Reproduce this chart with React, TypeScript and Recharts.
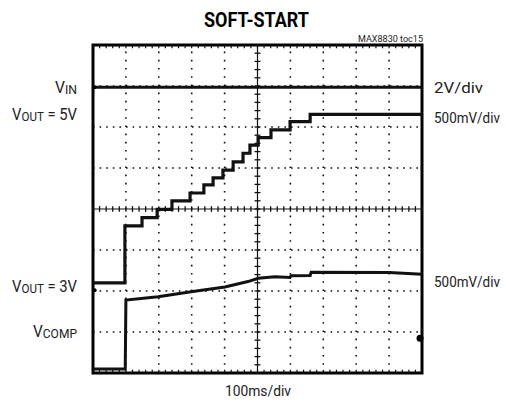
import React from 'react';
import { LineChart, Line, XAxis, YAxis, ReferenceLine, ReferenceArea, ReferenceDot } from 'recharts';

// --- scope traces, in screen divisions (10 x 8) ---
const vinX = [0, 10];
const vinY = [6.97, 6.97];

// VOUT = 5V staircase (stepAfter)
const v5X = [0, 0.97, 1.49, 1.95, 2.4, 2.95, 3.37, 3.65, 3.95, 4.26, 4.56, 4.77, 5.02, 5.41, 5.99, 6.6, 10];
const v5Y = [2.2, 3.59, 3.79, 3.99, 4.2, 4.39, 4.59, 4.76, 4.95, 5.15, 5.36, 5.56, 5.74, 5.93, 6.13, 6.31, 6.31];

// VOUT = 3V / VCOMP ramp
const v3X = [0, 0.98, 1.0, 1.98, 2.98, 4.01, 4.71, 5.02, 5.53, 5.99, 6.02, 6.6, 6.63, 9.0, 10];
const v3Y = [0.1, 0.1, 1.78, 1.86, 1.98, 2.1, 2.23, 2.31, 2.35, 2.33, 2.37, 2.38, 2.46, 2.45, 2.41];

const gridX = [1, 2, 3, 4, 6, 7, 8, 9];
const gridY = [1, 2, 3, 5, 6, 7];

const toPts = (xs: number[], ys: number[]) => xs.map((x, i) => ({ x, y: ys[i] }));

const minorY = Array.from({ length: 41 }, (_, i) => i * 0.2);
const minorX = Array.from({ length: 51 }, (_, i) => i * 0.2);

const FONT = "Roboto, 'Liberation Sans', sans-serif";
const INK = '#111';

const Labels = () => (
  <svg width={506} height={404} style={{ position: 'absolute', left: 0, top: 0, pointerEvents: 'none' }}>
    <g fontFamily={FONT} fill="#222">
      <text x={204} y={26.7} fontSize={21} fontWeight="bold" textLength={105} lengthAdjust="spacingAndGlyphs" fill="#000">SOFT-START</text>
      <text x={358} y={42} fontSize={9.5} textLength={65} lengthAdjust="spacingAndGlyphs">MAX8830 toc15</text>

      <text x={55} y={93.3} fontSize={16} textLength={22} lengthAdjust="spacingAndGlyphs">
        V<tspan fontSize={12.5} dy={1}>IN</tspan>
      </text>
      <text x={12} y={120} fontSize={16} textLength={65} lengthAdjust="spacingAndGlyphs">
        V<tspan fontSize={12.5} dy={1}>OUT</tspan><tspan dy={-1}> = 5V</tspan>
      </text>
      <text x={12} y={291.7} fontSize={16} textLength={65} lengthAdjust="spacingAndGlyphs">
        V<tspan fontSize={12.5} dy={1}>OUT</tspan><tspan dy={-1}> = 3V</tspan>
      </text>
      <text x={33} y={337} fontSize={16} textLength={44} lengthAdjust="spacingAndGlyphs">
        V<tspan fontSize={12.5} dy={1}>COMP</tspan>
      </text>

      <text x={434} y={92.7} fontSize={15} textLength={49} lengthAdjust="spacingAndGlyphs">2V/div</text>
      <text x={434} y={122.5} fontSize={14.5} textLength={66} lengthAdjust="spacingAndGlyphs">500mV/div</text>
      <text x={434} y={286.5} fontSize={14.5} textLength={66} lengthAdjust="spacingAndGlyphs">500mV/div</text>
      <text x={225} y={396} fontSize={15} textLength={66} lengthAdjust="spacingAndGlyphs">100ms/div</text>
    </g>
  </svg>
);

export default function App() {
  return (
    <div style={{ position: 'absolute', left: 0, top: 0, width: 506, height: 404, background: '#fff' }}>
      <LineChart width={506} height={404} margin={{ top: 45, left: 93, right: 84, bottom: 31 }}>
        <XAxis type="number" dataKey="x" domain={[0, 10]} hide allowDataOverflow />
        <YAxis type="number" dataKey="y" domain={[0, 8]} hide allowDataOverflow />

        {gridX.map(v => (
          <ReferenceLine key={`gx${v}`} x={v} stroke={INK} strokeWidth={1.6} strokeDasharray="1.6 6.6" />
        ))}
        {gridY.map(v => (
          <ReferenceLine key={`gy${v}`} y={v} stroke={INK} strokeWidth={1.6} strokeDasharray="1.6 5" />
        ))}

        <ReferenceLine x={5} stroke={INK} strokeWidth={1.2} />
        <ReferenceLine y={4} stroke={INK} strokeWidth={1.2} />
        {minorY.map(v => (
          <ReferenceLine key={`cy${v}`} segment={[{ x: 4.91, y: v }, { x: 5.09, y: v }]} stroke={INK} strokeWidth={1.3} />
        ))}
        {minorX.map(v => (
          <ReferenceLine key={`cx${v}`} segment={[{ x: v, y: 3.93 }, { x: v, y: 4.07 }]} stroke={INK} strokeWidth={1.3} />
        ))}
        {minorX.map(v => (
          <ReferenceLine key={`bx${v}`} segment={[{ x: v, y: 0 }, { x: v, y: 0.08 }]} stroke={INK} strokeWidth={1.2} />
        ))}
        {minorX.map(v => (
          <ReferenceLine key={`tx${v}`} segment={[{ x: v, y: 7.92 }, { x: v, y: 8 }]} stroke={INK} strokeWidth={1.2} />
        ))}

        <ReferenceArea x1={0} x2={10} y1={0} y2={8} fill="none" stroke="#000" strokeWidth={3} fillOpacity={0} />

        <Line data={toPts(vinX, vinY)} dataKey="y" type="linear" stroke={INK} strokeWidth={3} dot={false} isAnimationActive={false} />
        <Line data={toPts(v5X, v5Y)} dataKey="y" type="stepAfter" stroke={INK} strokeWidth={3.2} dot={false} isAnimationActive={false} />
        <Line data={toPts(v3X, v3Y)} dataKey="y" type="linear" stroke={INK} strokeWidth={3} dot={false} isAnimationActive={false} />

        <ReferenceDot x={9.94} y={0.85} r={3.5} fill="#000" stroke="none" />
        <ReferenceDot x={0.05} y={6.97} r={2} fill="#000" stroke="none" />
        <ReferenceDot x={0.05} y={2.02} r={2} fill="#000" stroke="none" />
      </LineChart>
      <Labels />
    </div>
  );
}
